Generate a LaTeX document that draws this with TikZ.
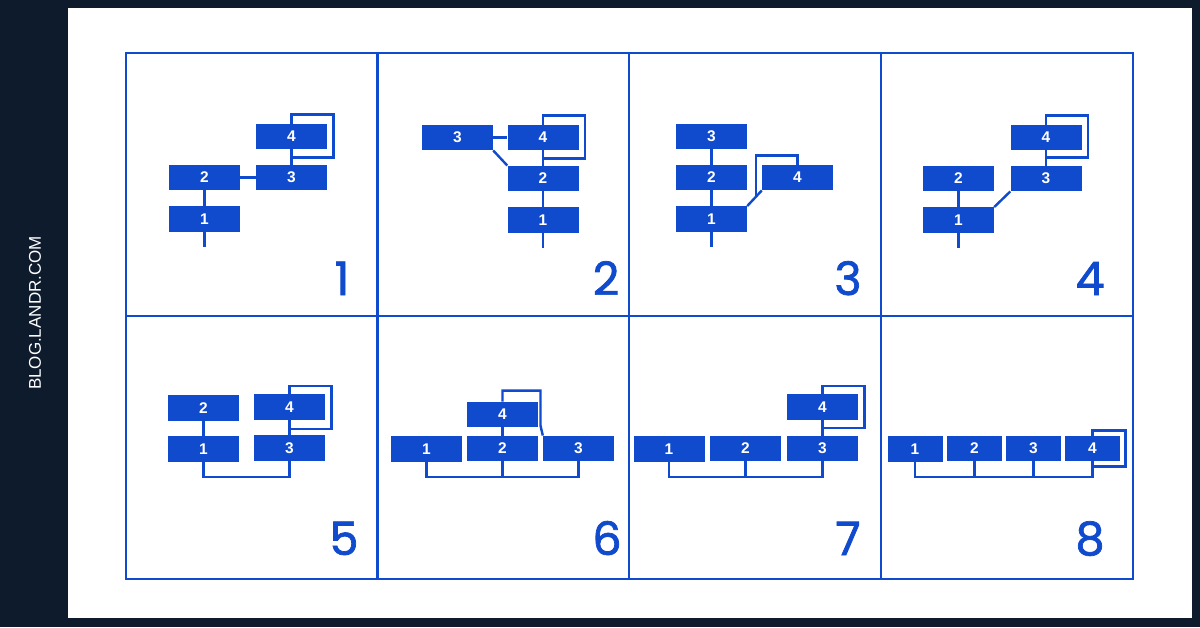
\documentclass[tikz,border=0pt]{standalone}
\usepackage{fontspec}
\setsansfont{Liberation Sans}
\newfontfamily\numfont{Poppins}[FakeBold=1.6]
\usepackage{tikz}
\usetikzlibrary{calc}
\definecolor{landrblue}{RGB}{16,74,205}
\definecolor{navy}{RGB}{14,27,45}

\begin{document}
\begin{tikzpicture}[x=1pt, y=-1pt]
  % Styles
  \tikzstyle{blk}=[fill=landrblue, text=white, minimum width=71pt, minimum height=25.5pt, inner sep=0pt, font=\sffamily\bfseries\fontsize{15.5}{15.5}\selectfont]
  \tikzstyle{shortblk}=[blk, minimum width=55pt]
  \tikzstyle{wire}=[draw=landrblue, line width=2.4pt]
  \tikzstyle{frame}=[draw=landrblue, line width=2.4pt]
  \tikzstyle{num}=[anchor=base, text=landrblue, inner sep=0pt, font=\numfont\fontsize{46}{46}\selectfont]

  % Background and grid
  \useasboundingbox (0,0) rectangle (1200,627);
  \fill[navy] (0,0) rectangle (1200,627);
  \fill[white] (68,8) rectangle (1192,618);
  \node[rotate=90, text=white, font=\sffamily\fontsize{17}{17}\selectfont] (site) at (35,313) {BLOG.LANDR.COM};
  \draw[frame] (126,53) rectangle (1133,579);
  \draw[frame] (377.5,53) -- (377.5,579);
  \draw[frame] (629,53) -- (629,579);
  \draw[frame] (881,53) -- (881,579);
  \draw[frame] (126,316) -- (1133,316);

  % Panel 1
  \node[blk] (p1n4) at (291.5,136.5) {4};
  \node[blk] (p1n3) at (291.5,177.5) {3};
  \node[blk] (p1n2) at (204.5,177.5) {2};
  \node[blk] (p1n1) at (204.5,219) {1};
  \coordinate (p1end) at (204.5,247);
  \draw[wire] (p1n2) -- (p1n3);
  \draw[wire] (p1n3) -- (p1n4);
  \draw[wire] (p1n2) -- (p1n1);
  \draw[wire] (p1n1) -- (p1end);
  \draw[wire] (p1n4.north) -- ++(0,-9) -| ++(42,43) -- ++(-42,0);
  \node[num] (lab1) at (342,295) {1};

  % Panel 2
  \node[blk] (p2n3) at (457.5,137.5) {3};
  \node[blk] (p2n4) at (543,137.5) {4};
  \node[blk] (p2n2) at (543,178.5) {2};
  \node[blk] (p2n1) at (543,220) {1};
  \coordinate (p2end) at (543,248);
  \draw[wire] (p2n3) -- (p2n4);
  \draw[wire] (p2n3.south east) -- (p2n2.north west);
  \draw[wire] (p2n4) -- (p2n2);
  \draw[wire] (p2n2) -- (p2n1);
  \draw[wire] (p2n1) -- (p2end);
  \draw[wire] (p2n4.north) -- ++(0,-9) -| ++(42,43) -- ++(-42,0);
  \node[num] (lab2) at (606,295) {2};

  % Panel 3
  \node[blk] (p3n3) at (711.5,136.5) {3};
  \node[blk] (p3n2) at (711.5,177.5) {2};
  \node[blk] (p3n1) at (711.5,219) {1};
  \node[blk] (p3n4) at (797.5,177.5) {4};
  \coordinate (p3end) at (711.5,247);
  \draw[wire] (p3n3) -- (p3n2);
  \draw[wire] (p3n2) -- (p3n1);
  \draw[wire] (p3n1) -- (p3end);
  \draw[wire] (p3n1.north east) -- (p3n4.south west);
  \draw[wire] (p3n4.north) -- ++(0,-9) -| ($(p3n1.north east)!0.6!(p3n4.south west)$);
  \node[num] (lab3) at (848,295) {3};

  % Panel 4
  \node[blk] (p4n4) at (1046,137.5) {4};
  \node[blk] (p4n3) at (1046,178.5) {3};
  \node[blk] (p4n2) at (958.5,178.5) {2};
  \node[blk] (p4n1) at (958.5,220) {1};
  \coordinate (p4end) at (958.5,248);
  \draw[wire] (p4n2) -- (p4n1);
  \draw[wire] (p4n1) -- (p4end);
  \draw[wire] (p4n1.north east) -- (p4n3.south west);
  \draw[wire] (p4n3) -- (p4n4);
  \draw[wire] (p4n4.north) -- ++(0,-9) -| ++(42,42) -- ++(-42,0);
  \node[num] (lab4) at (1090,295) {4};

  % Panel 5
  \node[blk] (p5n2) at (203.5,408) {2};
  \node[blk] (p5n1) at (203.5,449) {1};
  \node[blk] (p5n4) at (289.5,407) {4};
  \node[blk] (p5n3) at (289.5,448) {3};
  \draw[wire] (p5n2) -- (p5n1);
  \draw[wire] (p5n3) -- (p5n4);
  \draw[wire] (p5n1.south) -- ++(0,15) -| (p5n3.south);
  \draw[wire] (p5n4.north) -- ++(0,-8) -| ++(42,43) -- ++(-42,0);
  \node[num] (lab5) at (344,555) {5};

  % Panel 6
  \node[blk] (p6n4) at (502.5,414.5) {4};
  \node[blk] (p6n1) at (426.5,449) {1};
  \node[blk] (p6n2) at (502.5,448.5) {2};
  \node[blk] (p6n3) at (578.5,448.5) {3};
  \draw[wire] (p6n4) -- (p6n2);
  \draw[wire] (p6n1.south) -- ++(0,15) -| (p6n3.south);
  \draw[wire] (p6n2.south) -- ++(0,15.5);
  \draw[wire] (p6n4.north) -- ++(0,-11) -| ++(38,35) -- (p6n3.north west);
  \node[num] (lab6) at (607,555) {6};

  % Panel 7
  \node[blk] (p7n1) at (669,449) {1};
  \node[blk] (p7n2) at (745.5,448.5) {2};
  \node[blk] (p7n3) at (822.5,448.5) {3};
  \node[blk] (p7n4) at (822.5,407) {4};
  \draw[wire] (p7n3) -- (p7n4);
  \draw[wire] (p7n1.south) -- ++(0,15) -| (p7n3.south);
  \draw[wire] (p7n2.south) -- ++(0,15.5);
  \draw[wire] (p7n4.north) -- ++(0,-8) -| ++(42,42) -- ++(-42,0);
  \node[num] (lab7) at (848,555) {7};

  % Panel 8
  \node[shortblk] (p8n1) at (915,449) {1};
  \node[shortblk] (p8n2) at (974.5,448.5) {2};
  \node[shortblk] (p8n3) at (1033.5,448.5) {3};
  \node[shortblk] (p8n4) at (1092.5,448.5) {4};
  \draw[wire] (p8n1.south) -- ++(0,15) -| (p8n4.south);
  \draw[wire] (p8n2.south) -- ++(0,15.5);
  \draw[wire] (p8n3.south) -- ++(0,15.5);
  \draw[wire] (p8n4.north) -- ++(0,-5) -| ++(33,36) -- ++(-33,0);
  \node[num] (lab8) at (1090,555) {8};
\end{tikzpicture}
\end{document}
